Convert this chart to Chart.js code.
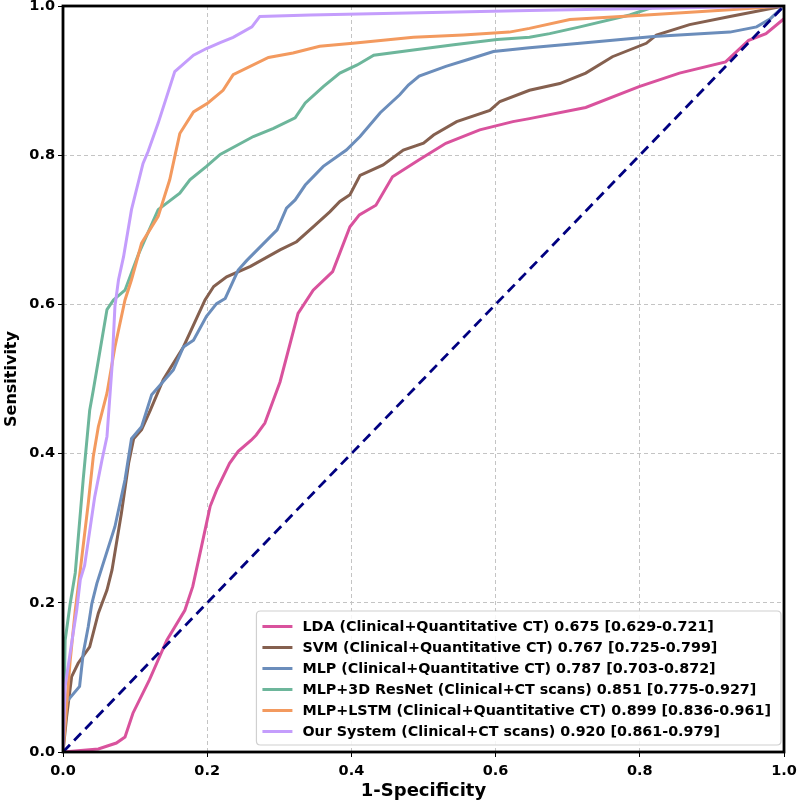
<!DOCTYPE html>
<html>
<head>
<meta charset="utf-8">
<script src="https://cdn.jsdelivr.net/npm/chart.js@4/dist/chart.umd.min.js"></script>
<style>
  html, body { margin: 0; padding: 0; background: #ffffff; }
  #wrap { width: 800px; height: 802px; }
</style>
</head>
<body>
<div id="wrap"><canvas id="c" width="800" height="802"></canvas></div>
<script>
// ---- Data ----
const xTicks = [0.0, 0.2, 0.4, 0.6, 0.8, 1.0];
const yTicks = [0.0, 0.2, 0.4, 0.6, 0.8, 1.0];

const seriesLabels = [
  "LDA (Clinical+Quantitative CT) 0.675 [0.629-0.721]",
  "SVM (Clinical+Quantitative CT) 0.767 [0.725-0.799]",
  "MLP (Clinical+Quantitative CT) 0.787 [0.703-0.872]",
  "MLP+3D ResNet (Clinical+CT scans) 0.851 [0.775-0.927]",
  "MLP+LSTM (Clinical+Quantitative CT) 0.899 [0.836-0.961]",
  "Our System (Clinical+CT scans) 0.920 [0.861-0.979]"
];

const ldaX = [0.000, 0.049, 0.074, 0.086, 0.097, 0.120, 0.144, 0.169, 0.180, 0.192, 0.204, 0.213, 0.231, 0.243, 0.261, 0.268, 0.280, 0.301, 0.326, 0.347, 0.374, 0.398, 0.411, 0.434, 0.457, 0.494, 0.531, 0.578, 0.624, 0.647, 0.725, 0.799, 0.855, 0.919, 0.951, 0.975, 1.000];
const ldaY = [0.000, 0.004, 0.012, 0.020, 0.052, 0.097, 0.150, 0.190, 0.222, 0.275, 0.329, 0.351, 0.387, 0.403, 0.418, 0.425, 0.441, 0.496, 0.588, 0.619, 0.644, 0.704, 0.720, 0.733, 0.771, 0.794, 0.816, 0.834, 0.845, 0.849, 0.864, 0.892, 0.910, 0.925, 0.954, 0.963, 0.983];

const svmX = [0.000, 0.005, 0.012, 0.021, 0.037, 0.049, 0.061, 0.068, 0.081, 0.091, 0.098, 0.109, 0.121, 0.139, 0.167, 0.197, 0.209, 0.227, 0.260, 0.301, 0.324, 0.347, 0.370, 0.384, 0.398, 0.412, 0.444, 0.472, 0.500, 0.514, 0.546, 0.592, 0.606, 0.647, 0.689, 0.725, 0.762, 0.809, 0.823, 0.869, 0.925, 1.000];
const svmY = [0.000, 0.047, 0.101, 0.119, 0.141, 0.186, 0.217, 0.244, 0.320, 0.387, 0.420, 0.432, 0.458, 0.499, 0.543, 0.606, 0.624, 0.637, 0.651, 0.673, 0.684, 0.704, 0.724, 0.738, 0.747, 0.773, 0.787, 0.807, 0.816, 0.827, 0.845, 0.860, 0.872, 0.887, 0.896, 0.910, 0.932, 0.950, 0.961, 0.975, 0.986, 1.000];

const mlpX = [0.000, 0.003, 0.023, 0.028, 0.035, 0.040, 0.047, 0.072, 0.086, 0.095, 0.109, 0.123, 0.153, 0.167, 0.181, 0.199, 0.213, 0.225, 0.243, 0.255, 0.297, 0.310, 0.322, 0.336, 0.361, 0.393, 0.412, 0.440, 0.467, 0.479, 0.494, 0.531, 0.564, 0.597, 0.647, 0.717, 0.819, 0.925, 0.962, 0.981, 1.000];
const mlpY = [0.000, 0.065, 0.088, 0.132, 0.168, 0.199, 0.226, 0.302, 0.365, 0.420, 0.436, 0.479, 0.512, 0.543, 0.552, 0.584, 0.601, 0.608, 0.646, 0.659, 0.700, 0.729, 0.740, 0.760, 0.785, 0.807, 0.825, 0.857, 0.881, 0.894, 0.906, 0.919, 0.929, 0.939, 0.944, 0.950, 0.959, 0.965, 0.972, 0.983, 1.000];

const resnetX = [0.000, 0.003, 0.010, 0.017, 0.028, 0.037, 0.042, 0.061, 0.070, 0.086, 0.105, 0.132, 0.162, 0.176, 0.199, 0.218, 0.264, 0.292, 0.322, 0.336, 0.361, 0.384, 0.408, 0.431, 0.486, 0.542, 0.602, 0.647, 0.675, 0.717, 0.786, 0.823, 1.000];
const resnetY = [0.000, 0.150, 0.199, 0.240, 0.365, 0.458, 0.485, 0.593, 0.606, 0.619, 0.668, 0.727, 0.749, 0.767, 0.785, 0.801, 0.825, 0.836, 0.850, 0.870, 0.892, 0.910, 0.921, 0.934, 0.941, 0.948, 0.955, 0.958, 0.963, 0.972, 0.988, 1.000, 1.000];

const lstmX = [0.000, 0.010, 0.017, 0.024, 0.035, 0.042, 0.049, 0.061, 0.072, 0.086, 0.095, 0.109, 0.132, 0.148, 0.155, 0.162, 0.181, 0.201, 0.222, 0.236, 0.285, 0.319, 0.356, 0.402, 0.486, 0.555, 0.619, 0.647, 0.703, 0.809, 0.925, 1.000];
const lstmY = [0.000, 0.123, 0.190, 0.244, 0.333, 0.396, 0.436, 0.481, 0.543, 0.606, 0.633, 0.682, 0.718, 0.767, 0.798, 0.829, 0.858, 0.870, 0.887, 0.908, 0.931, 0.937, 0.946, 0.950, 0.958, 0.961, 0.965, 0.970, 0.982, 0.988, 0.995, 1.000];

const oursX = [0.000, 0.003, 0.012, 0.019, 0.024, 0.030, 0.044, 0.054, 0.061, 0.068, 0.072, 0.077, 0.084, 0.095, 0.111, 0.118, 0.132, 0.155, 0.181, 0.199, 0.218, 0.236, 0.262, 0.273, 0.343, 0.647, 0.823, 1.000];
const oursY = [0.000, 0.088, 0.146, 0.190, 0.231, 0.250, 0.342, 0.391, 0.423, 0.517, 0.597, 0.633, 0.664, 0.727, 0.789, 0.805, 0.843, 0.912, 0.934, 0.943, 0.951, 0.958, 0.972, 0.986, 0.988, 0.994, 0.997, 1.000];

const chanceX = [0.0, 1.0];
const chanceY = [0.0, 1.0];

const seriesColors = ["#d9529d", "#85604f", "#6b8dbb", "#6db69b", "#f39a5f", "#c49dfc"];

function toPoints(xs, ys) { return xs.map((x, i) => ({ x: x, y: ys[i] })); }

const allX = [ldaX, svmX, mlpX, resnetX, lstmX, oursX];
const allY = [ldaY, svmY, mlpY, resnetY, lstmY, oursY];

const datasets = seriesLabels.map((lab, i) => ({
  label: lab,
  data: toPoints(allX[i], allY[i]),
  borderColor: seriesColors[i],
  backgroundColor: seriesColors[i],
  borderWidth: 3,
  pointRadius: 0,
  tension: 0,
  fill: false,
  order: 6 - i
}));
datasets.push({
  label: "chance",
  data: toPoints(chanceX, chanceY),
  borderColor: "#000080",
  borderWidth: 2.8,
  borderDash: [10, 6],
  pointRadius: 0,
  fill: false,
  order: 0
});

const FONT = "'DejaVu Sans', 'Liberation Sans', sans-serif";

const framePlugin = {
  id: "frame",
  afterDraw(chart) {
    const ctx = chart.ctx;
    const a = chart.chartArea;
    ctx.save();
    ctx.strokeStyle = "#000000";
    ctx.lineWidth = 2.8;
    ctx.setLineDash([]);
    ctx.strokeRect(a.left, a.top, a.right - a.left, a.bottom - a.top);
    ctx.restore();

    // legend box (lower right)
    ctx.save();
    ctx.font = "bold 14.3px " + FONT;
    let maxW = 0;
    seriesLabels.forEach(l => { maxW = Math.max(maxW, ctx.measureText(l).width); });
    const rowH = 21;
    const padX = 6, lineLen = 30, gap = 10;
    const boxW = padX + lineLen + gap + maxW + 10;
    const boxH = rowH * seriesLabels.length + 8;
    const right = a.right - 3;
    const bottom = a.bottom - 7;
    const left = right - boxW;
    const top = bottom - boxH;
    ctx.fillStyle = "rgba(255,255,255,0.85)";
    ctx.strokeStyle = "#d0d0d0";
    ctx.lineWidth = 1.2;
    ctx.beginPath();
    const r = 4;
    ctx.moveTo(left + r, top);
    ctx.lineTo(right - r, top); ctx.quadraticCurveTo(right, top, right, top + r);
    ctx.lineTo(right, bottom - r); ctx.quadraticCurveTo(right, bottom, right - r, bottom);
    ctx.lineTo(left + r, bottom); ctx.quadraticCurveTo(left, bottom, left, bottom - r);
    ctx.lineTo(left, top + r); ctx.quadraticCurveTo(left, top, left + r, top);
    ctx.closePath();
    ctx.fill();
    ctx.stroke();
    ctx.textBaseline = "middle";
    ctx.textAlign = "left";
    seriesLabels.forEach((l, i) => {
      const cy = top + 4 + rowH * i + rowH / 2 + 1;
      ctx.strokeStyle = seriesColors[i];
      ctx.lineWidth = 3;
      ctx.beginPath();
      ctx.moveTo(left + padX, cy);
      ctx.lineTo(left + padX + lineLen, cy);
      ctx.stroke();
      ctx.fillStyle = "#000000";
      ctx.fillText(l, left + padX + lineLen + gap, cy + 1);
    });
    ctx.restore();
  }
};

new Chart(document.getElementById("c"), {
  type: "line",
  data: { datasets: datasets },
  plugins: [framePlugin],
  options: {
    responsive: false,
    animation: false,
    parsing: true,
    layout: { padding: { top: 6, right: 16, left: 0, bottom: 0 } },
    plugins: {
      legend: { display: false },
      tooltip: { enabled: false }
    },
    scales: {
      x: {
        type: "linear",
        min: 0, max: 1,
        afterFit(s) { s.height = 50; s.paddingLeft = 0; s.paddingRight = 0; },
        afterBuildTicks(s) { s.ticks = xTicks.map(v => ({ value: v })); },
        ticks: {
          font: { family: FONT, size: 14.5, weight: "bold" },
          color: "#000000",
          padding: 6,
          maxRotation: 0,
          callback: v => Number(v).toFixed(1)
        },
        grid: { color: "#c4c4c4", lineWidth: 1, tickColor: "#000000", tickLength: 5, drawTicks: true },
        border: { display: false, dash: [4, 3] },
        title: {
          display: true, text: "1-Specificity",
          font: { family: FONT, size: 18, weight: "bold" },
          color: "#000000", padding: { top: 0, bottom: 0 }
        }
      },
      y: {
        type: "linear",
        min: 0, max: 1,
        afterFit(s) { s.width = 63; s.paddingTop = 0; s.paddingBottom = 0; },
        afterBuildTicks(s) { s.ticks = yTicks.map(v => ({ value: v })); },
        ticks: {
          font: { family: FONT, size: 14.5, weight: "bold" },
          color: "#000000",
          padding: 3,
          callback: v => Number(v).toFixed(1)
        },
        grid: { color: "#c4c4c4", lineWidth: 1, tickColor: "#000000", tickLength: 5, drawTicks: true },
        border: { display: false, dash: [4, 3] },
        title: {
          display: true, text: "Sensitivity",
          font: { family: FONT, size: 16, weight: "bold" },
          color: "#000000", padding: { top: 2, bottom: 0 }
        }
      }
    }
  }
});
</script>
</body>
</html>
